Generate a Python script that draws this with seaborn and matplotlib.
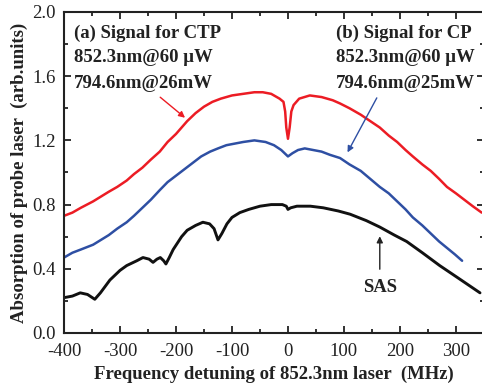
import matplotlib
matplotlib.use('Agg')
import matplotlib.pyplot as plt
from matplotlib.ticker import MultipleLocator, FormatStrFormatter
import seaborn as sns
import numpy as np
import pandas as pd

# CTP signal (red)
ctp_freq = [-400, -385, -370, -348, -320, -305, -288, -275, -260, -245, -229, -215, -200, -180,
            -165, -150, -135, -120, -100, -80, -60, -45, -30, -15, -8, -5, -3, 0, 3, 6, 10, 20,
            39, 60, 80, 93, 110, 130, 147, 164, 180, 195, 210, 223, 240, 255, 270, 284, 300,
            315, 330, 346]
ctp_abs = [0.73, 0.75, 0.78, 0.82, 0.88, 0.91, 0.95, 0.99, 1.03, 1.08, 1.13, 1.19, 1.24, 1.32,
           1.37, 1.41, 1.44, 1.46, 1.48, 1.49, 1.50, 1.50, 1.49, 1.46, 1.44, 1.38, 1.28, 1.21,
           1.28, 1.38, 1.42, 1.46, 1.48, 1.47, 1.45, 1.43, 1.40, 1.36, 1.32, 1.28, 1.23, 1.19,
           1.14, 1.10, 1.05, 1.01, 0.96, 0.91, 0.87, 0.83, 0.79, 0.75]

# CP signal (blue)
cp_freq = [-400, -385, -370, -348, -320, -305, -288, -275, -260, -245, -229, -215, -200, -185,
           -170, -155, -139, -125, -110, -95, -80, -60, -40, -25, -12, 0, 8, 18, 30, 45, 60, 75,
           93, 110, 130, 147, 164, 180, 195, 210, 223, 240, 255, 270, 284, 298, 311]
cp_abs = [0.47, 0.50, 0.52, 0.55, 0.61, 0.65, 0.69, 0.73, 0.78, 0.83, 0.89, 0.94, 0.98, 1.02,
          1.06, 1.10, 1.13, 1.15, 1.17, 1.18, 1.19, 1.20, 1.19, 1.17, 1.14, 1.10, 1.12, 1.14,
          1.15, 1.14, 1.13, 1.11, 1.09, 1.05, 1.01, 0.96, 0.91, 0.87, 0.82, 0.77, 0.72, 0.67,
          0.62, 0.57, 0.53, 0.49, 0.45]

# saturated absorption spectrum (black)
sas_freq = [-400, -385, -371, -358, -345, -335, -318, -300, -288, -270, -259, -248, -241, -234,
            -228, -222, -218, -212, -205, -190, -180, -165, -152, -140, -132, -125, -118, -109,
            -100, -86, -70, -50, -30, -10, -3, 0, 5, 16, 40, 63, 90, 111, 140, 164, 190, 212,
            240, 271, 305, 343]
sas_abs = [0.22, 0.23, 0.25, 0.24, 0.21, 0.25, 0.33, 0.39, 0.42, 0.45, 0.47, 0.46, 0.44, 0.46,
           0.47, 0.45, 0.43, 0.47, 0.52, 0.60, 0.64, 0.67, 0.69, 0.68, 0.65, 0.58, 0.62, 0.68,
           0.72, 0.75, 0.77, 0.79, 0.80, 0.80, 0.79, 0.77, 0.78, 0.79, 0.79, 0.78, 0.76, 0.74,
           0.70, 0.66, 0.61, 0.57, 0.50, 0.42, 0.34, 0.25]

sns.set_style('ticks')
plt.rcParams['font.family'] = ['Liberation Serif', 'DejaVu Serif']
plt.rcParams['axes.unicode_minus'] = False

fig = plt.figure(figsize=(4.82, 3.88), dpi=100)
ax = fig.add_axes([0.1328, 0.1418, 0.8712, 0.8273])

sns.lineplot(x=ctp_freq, y=ctp_abs, ax=ax, color='#ec1c24', lw=1.8, sort=False, estimator=None)
sns.lineplot(x=cp_freq, y=cp_abs, ax=ax, color='#2e4fa3', lw=1.8, sort=False, estimator=None)
sns.lineplot(x=sas_freq, y=sas_abs, ax=ax, color='#111111', lw=2.1, sort=False, estimator=None)

ax.set_xlim(-400, 350)
ax.set_ylim(0, 2.0)
ax.xaxis.set_major_locator(MultipleLocator(100))
ax.xaxis.set_minor_locator(MultipleLocator(50))
ax.yaxis.set_major_locator(MultipleLocator(0.4))
ax.yaxis.set_minor_locator(MultipleLocator(0.2))
ax.yaxis.set_major_formatter(FormatStrFormatter('%.1f'))
ax.tick_params(which='both', direction='in', top=True, right=True, width=1.3, labelsize=13.5,
               colors='#222222')
ax.tick_params(which='major', length=5)
ax.tick_params(which='minor', length=3)
ax.tick_params(axis='x', pad=7)
ax.tick_params(axis='y', pad=6)
for s in ax.spines.values():
    s.set_linewidth(1.5)
    s.set_color('#222222')

ax.set_xlabel('Frequency detuning of 852.3nm laser  (MHz)', fontsize=13.5, fontweight='bold',
              labelpad=4, color='#222222')
ax.set_ylabel('Absorption of probe laser  (arb.units)', fontsize=13.5, fontweight='bold',
              labelpad=3, color='#222222')

tkw = dict(fontsize=13.5, fontweight='bold', color='#222222', transform=ax.transAxes, va='center')
xa = (74 - 64) / 420
xb = (336 - 64) / 420
ax.text(xa, 1 - (33 - 12) / 321, '(a) Signal for CTP', **tkw)
ax.text(xa, 1 - (58 - 12) / 321, '852.3nm@60 μW', **tkw)
ax.text(xa, 1 - (84 - 12) / 321, '794.6nm@26mW', **tkw)
ax.text(xb, 1 - (33 - 12) / 321, '(b) Signal for CP', **tkw)
ax.text(xb, 1 - (58 - 12) / 321, '852.3nm@60 μW', **tkw)
ax.text(xb, 1 - (84 - 12) / 321, '794.6nm@25mW', **tkw)

akw = dict(arrowstyle='-|>', mutation_scale=9, lw=1.0)
ax.annotate('', xy=(-180, 1.33), xytext=(-232, 1.48),
            arrowprops=dict(color='#ec1c24', **akw))
ax.annotate('', xy=(104, 1.11), xytext=(161, 1.48),
            arrowprops=dict(color='#2e4fa3', **akw))
ax.annotate('', xy=(164, 0.62), xytext=(164, 0.38),
            arrowprops=dict(color='#222222', **akw))
ax.text(164, 0.285, 'SAS', ha='center', va='center', fontsize=13.5, fontweight='bold',
        color='#222222')

fig.savefig('out.png', dpi=100)
